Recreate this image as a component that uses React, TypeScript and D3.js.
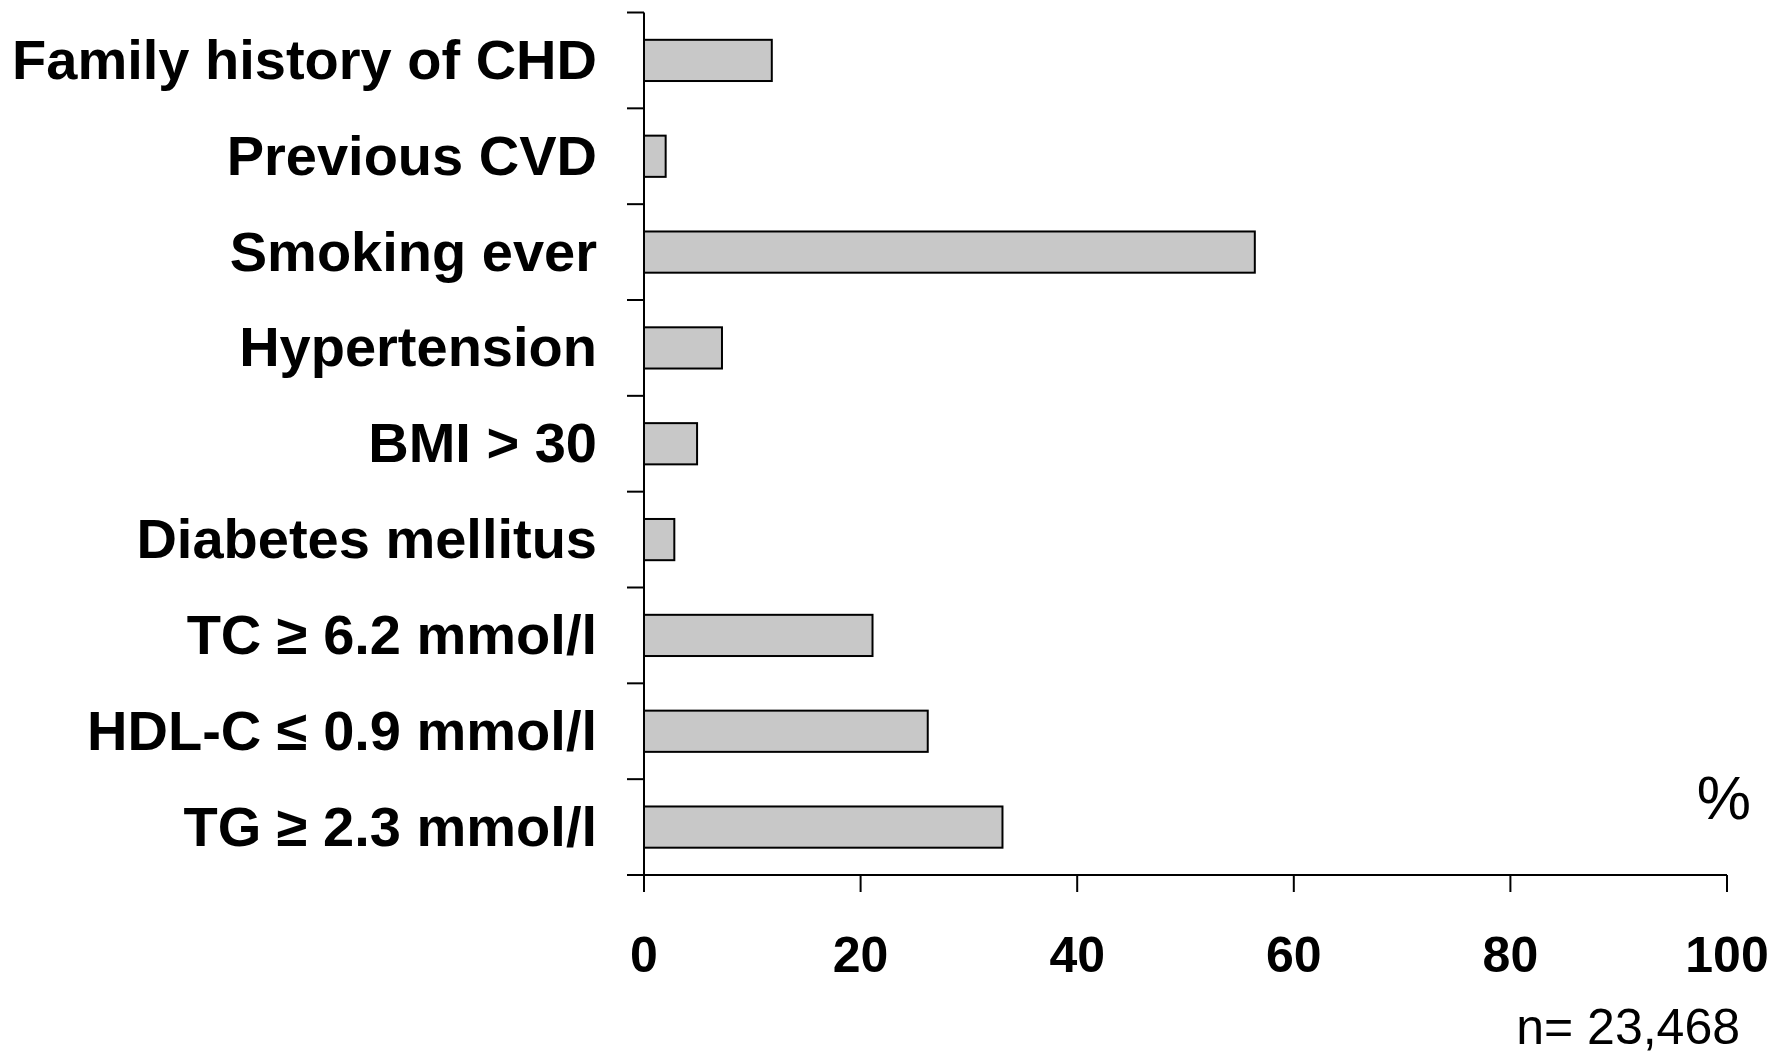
import * as d3 from "d3";

const W = 1777;
const H = 1056;

const categories = [
  "Family history of CHD",
  "Previous CVD",
  "Smoking ever",
  "Hypertension",
  "BMI > 30",
  "Diabetes mellitus",
  "TC \u2265 6.2 mmol/l",
  "HDL-C \u2264 0.9 mmol/l",
  "TG \u2265 2.3 mmol/l",
];
const percents = [11.8, 2.0, 56.4, 7.2, 4.9, 2.8, 21.1, 26.2, 33.1];
const xTicks = [0, 20, 40, 60, 80, 100];

const left = 644;
const right = 1727;
const top = 12.5;
const bottom = 875;
const font = "Liberation Sans, Arial, sans-serif";

const x = d3.scaleLinear().domain([0, 100]).range([left, right]);
const y = d3
  .scaleBand()
  .domain(categories)
  .range([top, bottom])
  .paddingInner(0.57)
  .paddingOuter(0.285);

// tick marks sit on band boundaries, not centres
const step = (bottom - top) / categories.length;
const yTickPos = d3.range(categories.length + 1).map((i) => top + i * step);

function App() {
  return (
    <svg
      width={W}
      height={H}
      style={{ position: "absolute", left: 0, top: 0, background: "white" }}
    >
      {categories.map((c, i) => (
        <rect
          key={c}
          x={x(0)}
          y={y(c)}
          width={x(percents[i]) - x(0)}
          height={y.bandwidth()}
          fill="#c8c8c8"
          stroke="black"
          strokeWidth={2}
        />
      ))}

      {/* y axis */}
      <line x1={left} x2={left} y1={top} y2={bottom} stroke="black" strokeWidth={2} />
      {yTickPos.map((t, i) => (
        <line key={i} x1={left - 17} x2={left} y1={t} y2={t} stroke="black" strokeWidth={2} />
      ))}
      {categories.map((c) => (
        <text
          key={c}
          x={597}
          y={(y(c) as number) + y.bandwidth() / 2}
          dy="0.33em"
          textAnchor="end"
          fontFamily={font}
          fontWeight="bold"
          fontSize={56}
        >
          {c}
        </text>
      ))}

      {/* x axis */}
      <line x1={left - 17} x2={right} y1={bottom} y2={bottom} stroke="black" strokeWidth={2} />
      {xTicks.map((t) => (
        <g key={t}>
          <line x1={x(t)} x2={x(t)} y1={bottom} y2={bottom + 17} stroke="black" strokeWidth={2} />
          <text
            x={x(t)}
            y={972}
            textAnchor="middle"
            fontFamily={font}
            fontWeight="bold"
            fontSize={50}
          >
            {t}
          </text>
        </g>
      ))}

      <text x={1751} y={819} textAnchor="end" fontFamily={font} fontSize={61}>
        %
      </text>
      <text x={1740} y={1044} textAnchor="end" fontFamily={font} fontSize={50}>
        n= 23,468
      </text>
    </svg>
  );
}

export default App;
